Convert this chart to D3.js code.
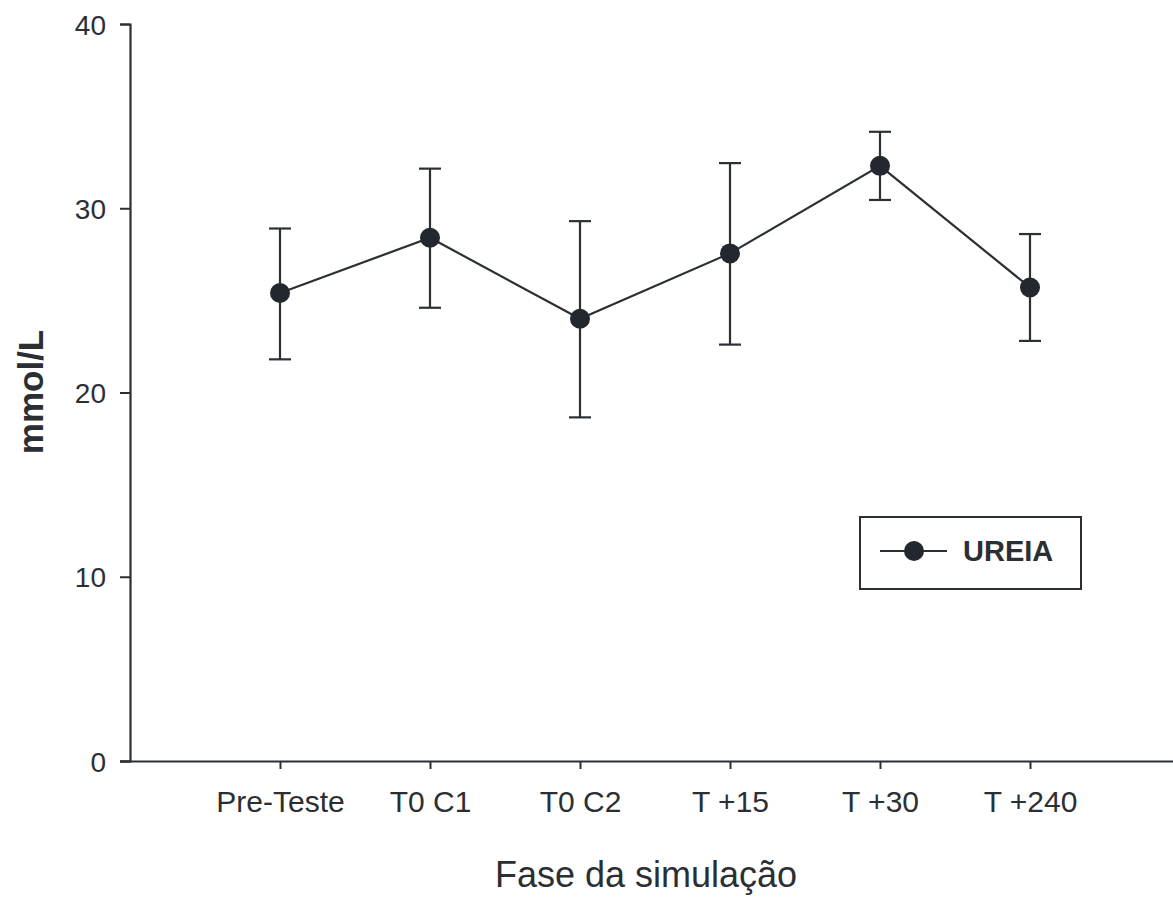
<!DOCTYPE html>
<html>
<head>
<meta charset="utf-8">
<script src="https://cdn.jsdelivr.net/npm/d3@7"></script>
<style>
  body { margin: 0; background: #fff; }
  text { font-family: "Liberation Sans", Arial, sans-serif; fill: #2b2f33; }
</style>
</head>
<body>
<div id="chart"></div>
<script>
// chart data
var phases = ["Pre-Teste", "T0 C1", "T0 C2", "T +15", "T +30", "T +240"];
var ureiaMean = [25.4, 28.4, 24.0, 27.55, 32.3, 25.7];
var ureiaUpper = [28.9, 32.15, 29.3, 32.45, 34.15, 28.6];
var ureiaLower = [21.8, 24.6, 18.65, 22.6, 30.45, 22.8];
var yTicks = [0, 10, 20, 30, 40];

var svgWidth = 1173;
var svgHeight = 897;
var ink = "#2b3035";

var svg = d3.select("#chart")
  .append("svg")
  .attr("width", svgWidth)
  .attr("height", svgHeight);

var data = phases.map((p, i) => ({
  phase: p, pos: i + 1, mean: ureiaMean[i], hi: ureiaUpper[i], lo: ureiaLower[i]
}));

// scales
var x = d3.scaleLinear().domain([0, 7]).range([130, 1180]);
var y = d3.scaleLinear().domain([0, 40]).range([761, 24]);

// y axis
var leftAxis = d3.axisLeft(y).tickValues(yTicks).tickSize(10).tickPadding(14);
var yAxis = svg.append("g")
  .attr("transform", "translate(130,0)")
  .call(leftAxis);

// x axis
var bottomAxis = d3.axisBottom(x)
  .tickValues(data.map(d => d.pos))
  .tickFormat((d, i) => phases[i])
  .tickSize(8)
  .tickPadding(22);
var xAxis = svg.append("g")
  .attr("transform", "translate(0,761)")
  .call(bottomAxis);

[xAxis, yAxis].forEach(g => {
  g.select(".domain").attr("stroke", ink).attr("stroke-width", 2.2);
  g.selectAll(".tick line").attr("stroke", ink).attr("stroke-width", 2);
  g.selectAll(".tick text")
    .attr("fill", "#2b2f33")
    .style("font-family", "'Liberation Sans', Arial, sans-serif")
    .style("font-size", "30px");
});
// x axis line starts at the 0 tick on the left
xAxis.select(".domain").attr("d", "M120,0.5H1173");
yAxis.selectAll(".tick text").style("font-size", "28px").attr("dy", "0.36em");

// error bars
var capHalf = 11;
var bars = svg.append("g").selectAll("g")
  .data(data)
  .enter()
  .append("g")
  .attr("stroke", ink)
  .attr("stroke-width", 2.2);

bars.append("line")
  .attr("x1", d => x(d.pos)).attr("x2", d => x(d.pos))
  .attr("y1", d => y(d.hi)).attr("y2", d => y(d.lo));
bars.append("line")
  .attr("x1", d => x(d.pos) - capHalf).attr("x2", d => x(d.pos) + capHalf)
  .attr("y1", d => y(d.hi)).attr("y2", d => y(d.hi));
bars.append("line")
  .attr("x1", d => x(d.pos) - capHalf).attr("x2", d => x(d.pos) + capHalf)
  .attr("y1", d => y(d.lo)).attr("y2", d => y(d.lo));

// line
var line = d3.line().x(d => x(d.pos)).y(d => y(d.mean));
svg.append("path")
  .datum(data)
  .attr("d", line)
  .attr("fill", "none")
  .attr("stroke", ink)
  .attr("stroke-width", 2.2);

// markers
svg.append("g").selectAll("circle")
  .data(data)
  .enter()
  .append("circle")
  .attr("cx", d => x(d.pos))
  .attr("cy", d => y(d.mean))
  .attr("r", 10)
  .attr("fill", "#23282e");

// axis titles
svg.append("text")
  .attr("x", 646)
  .attr("y", 887)
  .attr("text-anchor", "middle")
  .style("font-size", "36px")
  .text("Fase da simulação");

svg.append("text")
  .attr("transform", "translate(43,392) rotate(-90)")
  .attr("text-anchor", "middle")
  .style("font-size", "35px")
  .style("font-weight", "bold")
  .text("mmol/L");

// legend
var legend = svg.append("g");
legend.append("rect")
  .attr("x", 860).attr("y", 517)
  .attr("width", 221).attr("height", 72)
  .attr("fill", "#fff")
  .attr("stroke", ink)
  .attr("stroke-width", 2);
legend.append("line")
  .attr("x1", 880).attr("x2", 947)
  .attr("y1", 551).attr("y2", 551)
  .attr("stroke", ink).attr("stroke-width", 2.2);
legend.append("circle")
  .attr("cx", 914).attr("cy", 551).attr("r", 10).attr("fill", "#23282e");
legend.append("text")
  .attr("x", 963).attr("y", 561)
  .style("font-size", "29px")
  .style("font-weight", "bold")
  .text("UREIA");
</script>
</body>
</html>
